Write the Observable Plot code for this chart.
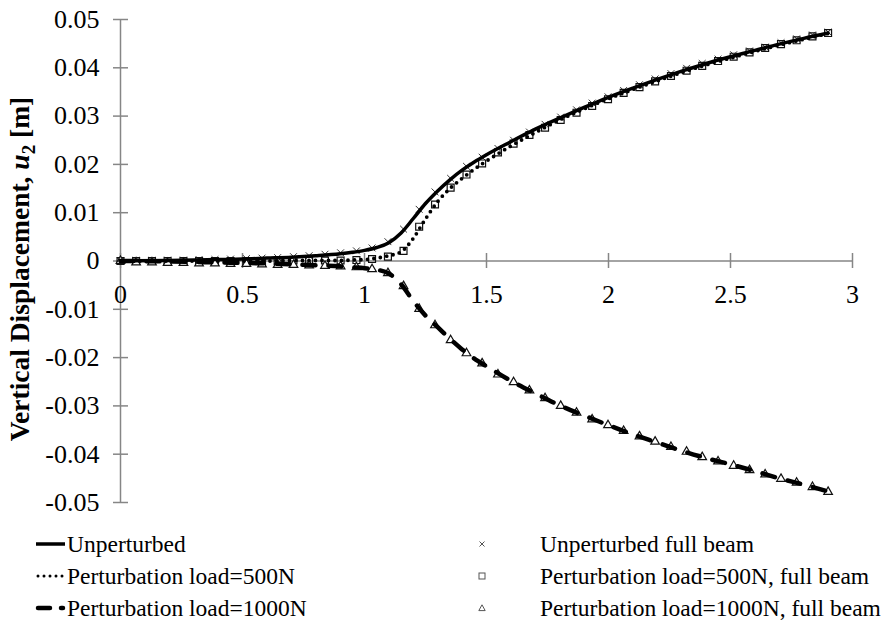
<!DOCTYPE html>
<html><head><meta charset="utf-8">
<script src="https://cdn.jsdelivr.net/npm/d3@7"></script>
<script src="https://cdn.jsdelivr.net/npm/@observablehq/plot@0.6"></script>
<style>
body{margin:0;background:#fff;font-family:"Liberation Serif","Times New Roman",serif;}
#wrap{position:relative;width:882px;height:630px;background:#fff;overflow:hidden;}
#legend{position:relative;width:882px;height:105px;font-size:23.5px;color:#000;}
.item{position:absolute;left:0;height:28px;line-height:28px;white-space:nowrap;}
.item svg{position:absolute;top:0;left:0;}
.item span{position:absolute;top:0;}
</style></head><body><div id="wrap"><div id="chart"></div><div id="legend"></div></div>
<script>
// ---- data ----
const lineX = [0,0.2,0.4,0.5,0.6,0.7,0.8,0.9,0.95,1.0,1.05,1.1,1.15,1.2,1.25,1.3,1.35,1.4,1.45,1.5,1.6,1.7,1.8,1.9,2.0,2.1,2.2,2.3,2.4,2.5,2.6,2.7,2.8,2.9];
const unperturbed = [0,0.0001,0.0003,0.0004,0.0006,0.0008,0.0011,0.0015,0.0018,0.0022,0.0028,0.0038,0.0058,0.0088,0.0119,0.0145,0.0168,0.0188,0.0205,0.0220,0.0247,0.0273,0.0296,0.0318,0.0339,0.0358,0.0376,0.0393,0.0409,0.0423,0.0436,0.0449,0.0461,0.0472];
const pert500 = [0,0,0,0,0,0.0001,0.0001,0.0001,0.0002,0.0003,0.0006,0.0011,0.0019,0.0047,0.0087,0.0123,0.0150,0.0171,0.0190,0.0207,0.0238,0.0266,0.0292,0.0315,0.0336,0.0355,0.0373,0.0390,0.0406,0.0420,0.0434,0.0447,0.0459,0.0471];
const pert1000 = [0,-0.0001,-0.0003,-0.0004,-0.0005,-0.0007,-0.0009,-0.0011,-0.0013,-0.0015,-0.0018,-0.0026,-0.0048,-0.0083,-0.0113,-0.0137,-0.0161,-0.0183,-0.0202,-0.0218,-0.0248,-0.0274,-0.0299,-0.0320,-0.0340,-0.0359,-0.0376,-0.0393,-0.0408,-0.0421,-0.0435,-0.0450,-0.0463,-0.0477];

const beamX = [0,0.064,0.129,0.193,0.258,0.322,0.387,0.451,0.516,0.58,0.644,0.709,0.773,0.838,0.902,0.967,1.031,1.096,1.16,1.224,1.289,1.353,1.418,1.482,1.547,1.611,1.676,1.74,1.804,1.869,1.933,1.998,2.062,2.127,2.191,2.256,2.32,2.384,2.449,2.513,2.578,2.642,2.707,2.771,2.836,2.9];
const beamUnperturbed = [0,0.0001,0.0001,0.0002,0.0002,0.0003,0.0003,0.0004,0.0005,0.0006,0.0007,0.0009,0.0011,0.0014,0.0017,0.0021,0.0027,0.0040,0.0066,0.0107,0.0143,0.0171,0.0196,0.0215,0.0233,0.0250,0.0267,0.0283,0.0298,0.0313,0.0327,0.0340,0.0353,0.0365,0.0377,0.0388,0.0399,0.0409,0.0418,0.0427,0.0435,0.0443,0.0452,0.0460,0.0468,0.0474];
const beam500 = [0,0,0,0,0,0,0,0,0,0,0,0.0001,0.0001,0.0001,0.0001,0.0002,0.0004,0.0009,0.0021,0.0071,0.0117,0.0152,0.0179,0.0202,0.0225,0.0243,0.0261,0.0276,0.0292,0.0307,0.0321,0.0335,0.0348,0.0360,0.0372,0.0383,0.0394,0.0404,0.0414,0.0423,0.0432,0.0441,0.0449,0.0457,0.0465,0.0472];
const beam1000 = [0,-0.0003,-0.0003,-0.0004,-0.0004,-0.0005,-0.0005,-0.0006,-0.0006,-0.0007,-0.0008,-0.0008,-0.0009,-0.0010,-0.0011,-0.0013,-0.0017,-0.0025,-0.0052,-0.0099,-0.0133,-0.0164,-0.0191,-0.0212,-0.0235,-0.0251,-0.0268,-0.0284,-0.0300,-0.0314,-0.0328,-0.0340,-0.0352,-0.0363,-0.0374,-0.0385,-0.0395,-0.0406,-0.0415,-0.0424,-0.0433,-0.0442,-0.0451,-0.0459,-0.0468,-0.0478];

const xTicks = [0,0.5,1,1.5,2,2.5,3];
const xTickLabels = ["0","0.5","1","1.5","2","2.5","3"];
const yTicks = [-0.05,-0.04,-0.03,-0.02,-0.01,0,0.01,0.02,0.03,0.04,0.05];
const yTickLabels = ["-0.05","-0.04","-0.03","-0.02","-0.01","0","0.01","0.02","0.03","0.04","0.05"];

const seriesNames = ["Unperturbed","Perturbation load=500N","Perturbation load=1000N"];
const beamNames = ["Unperturbed full beam","Perturbation load=500N, full beam","Perturbation load=1000N, full beam"];

// ---- tables ----
const lines = lineX.map((x,i)=>({x, u:unperturbed[i], p5:pert500[i], p10:pert1000[i]}));
const beams = beamX.map((x,i)=>({x, u:beamUnperturbed[i], p5:beam500[i], p10:beam1000[i]}));
const xt = xTicks.map((v,i)=>({v, label:xTickLabels[i], z:0}));
const yt = yTicks.map((v,i)=>({v, label:yTickLabels[i]}));

const axisColor = "#868686";
const FS = 26;
const FONT = "'Liberation Serif','Times New Roman',serif";
const plot = Plot.plot({
  width: 882, height: 525,
  marginLeft: 120, marginRight: 30, marginTop: 19, marginBottom: 23,
  x: {domain: [0,3], axis: null},
  y: {domain: [-0.05,0.05], axis: null},
  style: {fontFamily: FONT, background: "white", overflow: "visible"},
  marks: [
    Plot.ruleX([0], {stroke: axisColor, strokeWidth: 1.5}),
    Plot.ruleY([0], {stroke: axisColor, strokeWidth: 1.5}),
    Plot.tickY(yTicks, {y: d=>d, stroke: axisColor, strokeWidth: 1.5, insetLeft: -7, insetRight: 724}),
    Plot.tickX(xTicks, {x: d=>d, stroke: axisColor, strokeWidth: 1.5, insetTop: 234, insetBottom: 234}),
    Plot.text(xt, {x: "v", y: "z", text: "label", dy: 34, fontSize: FS, fill: "#000"}),
    Plot.text(yt, {y: "v", frameAnchor: "left", text: "label", dx: -21, textAnchor: "end", fontSize: FS, fill: "#000"}),
    // full beam markers
    Plot.dot(beams, {x: "x", y: "u", symbol: "times", r: 3.2, stroke: "#333", strokeWidth: 1}),
    Plot.dot(beams, {x: "x", y: "p5", symbol: "square", r: 3.9, stroke: "#111", strokeWidth: 1.2, fill: "none"}),
    Plot.dot(beams, {x: "x", y: "p10", symbol: "triangle", r: 3.2, stroke: "#111", strokeWidth: 1.2, fill: "white"}),
    // lines
    Plot.line(lines, {x: "x", y: "u", stroke: "#000", strokeWidth: 3.5, curve: "monotone-x"}),
    Plot.line(lines, {x: "x", y: "p5", stroke: "#000", strokeWidth: 3.8, strokeDasharray: "0 6.5", strokeLinecap: "round", curve: "monotone-x"}),
    Plot.line(lines, {x: "x", y: "p10", stroke: "#000", strokeWidth: 4.5, strokeDasharray: "13 13", strokeLinecap: "round", curve: "monotone-x"})
  ]
});
document.getElementById("chart").appendChild(plot);

// y-axis title (rich text)
const svg = d3.select(plot);
const t = svg.append("text")
  .attr("transform", "translate(29,269) rotate(-90)")
  .attr("text-anchor", "middle")
  .attr("font-family", FONT)
  .attr("font-weight", "bold")
  .attr("font-size", 27.5)
  .attr("fill", "#000");
t.append("tspan").text("Vertical Displacement, ");
t.append("tspan").attr("font-style", "italic").text("u");
t.append("tspan").attr("font-size", 19).attr("dy", 6).text("2");
t.append("tspan").attr("dy", -6).text(" [m]");

// ---- legend (HTML below svg) ----
const legend = document.getElementById("legend");
const leftRows = [
  {dash: null, w: 3.5, cap: "butt"},
  {dash: "0 6", w: 3, cap: "round"},
  {dash: "12 11", w: 4.5, cap: "round"}
];
const rowTop = [544, 576, 608].map(v => v - 525 - 14);
leftRows.forEach((r,i)=>{
  const d = document.createElement("div");
  d.className = "item";
  d.style.top = rowTop[i] + "px";
  d.innerHTML = `<svg width="70" height="28"><line x1="${r.cap==="round"?38:36}" x2="${r.cap==="round"?63:65}" y1="14" y2="14" stroke="#000" stroke-width="${r.w}" stroke-linecap="${r.cap}" ${r.dash?`stroke-dasharray="${r.dash}"`:""}/></svg><span style="left:67px">${seriesNames[i]}</span>`;
  legend.appendChild(d);
});
const sym = [
  `<path d="M-2.5,-2.5L2.5,2.5M-2.5,2.5L2.5,-2.5" stroke="#555" stroke-width="1" fill="none"/>`,
  `<rect x="-3" y="-3" width="6" height="6" stroke="#555" stroke-width="1" fill="none"/>`,
  `<path d="M0,-3.2L3.2,2.6L-3.2,2.6Z" stroke="#555" stroke-width="1" fill="none"/>`
];
beamNames.forEach((n,i)=>{
  const d = document.createElement("div");
  d.className = "item";
  d.style.top = rowTop[i] + "px";
  d.innerHTML = `<svg width="500" height="28"><g transform="translate(482,14)">${sym[i]}</g></svg><span style="left:540px">${n}</span>`;
  legend.appendChild(d);
});
</script></body></html>
